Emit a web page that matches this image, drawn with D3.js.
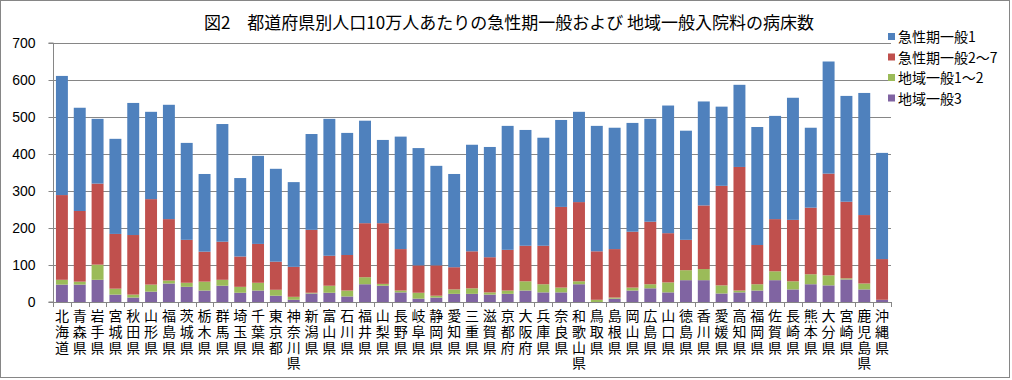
<!DOCTYPE html>
<html><head><meta charset="utf-8">
<script src="https://cdn.jsdelivr.net/npm/d3@7"></script>
<style>
html,body{margin:0;padding:0;background:#fff;}
text{font-family:"Noto Sans CJK JP","Noto Sans",sans-serif;}
.vlab{writing-mode:vertical-rl;text-orientation:upright;letter-spacing:1.7px;}
</style></head>
<body><svg id="c" width="1012" height="380"></svg>
<script>
const categories = ["北海道","青森県","岩手県","宮城県","秋田県","山形県","福島県","茨城県","栃木県","群馬県","埼玉県","千葉県","東京都","神奈川県","新潟県","富山県","石川県","福井県","山梨県","長野県","岐阜県","静岡県","愛知県","三重県","滋賀県","京都府","大阪府","兵庫県","奈良県","和歌山県","鳥取県","島根県","岡山県","広島県","山口県","徳島県","香川県","愛媛県","高知県","福岡県","佐賀県","長崎県","熊本県","大分県","宮崎県","鹿児島県","沖縄県"];
const chiiki3 = [47,47,60,20,12,28,50,41,31,44,25,31,17,6,23,25,15,48,44,26,9,12,22,22,20,22,31,26,26,48,0,9,31,37,26,59,59,23,26,31,59,34,48,45,61,34,6];
const chiiki1_2 = [13,8,41,16,8,19,8,11,24,16,16,21,16,8,2,19,16,19,5,5,16,5,12,15,6,9,25,22,13,8,6,3,8,11,27,27,30,22,5,17,24,22,27,27,3,16,0];
const kyusei2_7 = [229,191,219,148,161,231,166,116,81,103,82,105,76,81,170,81,96,146,164,112,74,82,60,100,95,110,96,104,218,214,131,131,151,169,133,82,172,269,334,106,141,166,180,275,207,185,110];
const kyusei1 = [322,279,175,257,357,236,309,262,210,318,212,238,251,229,259,370,330,277,225,304,317,269,252,288,298,335,313,292,235,244,339,328,294,278,345,295,281,214,222,319,279,330,216,303,286,330,287];
const yTicks = [0,100,200,300,400,500,600,700];
const seriesNames = ["地域一般3","地域一般1～2","急性期一般2～7","急性期一般1"];
const seriesColors = ["#8064A2","#9BBB59","#C0504D","#4F81BD"];
const title = "図2\u3000都道府県別人口10万人あたりの急性期一般および 地域一般入院料の病床数";

const svg = d3.select("#c");
const m = {left:53, right:891, top:43, bottom:302};
const grid = "#868686";

svg.append("rect").attr("x",0.5).attr("y",0.5).attr("width",1009).attr("height",377)
  .attr("fill","#fff").attr("stroke",grid);

const x = d3.scaleBand().domain(categories).range([m.left, m.right]).paddingInner(0.33).paddingOuter(0.165);
const y = d3.scaleLinear().domain([0,700]).range([m.bottom, m.top]);

// gridlines
svg.append("g").selectAll("line").data(yTicks.filter(d=>d>0)).join("line")
  .attr("x1",m.left).attr("x2",m.right)
  .attr("y1",d=>Math.round(y(d))+0.5).attr("y2",d=>Math.round(y(d))+0.5)
  .attr("stroke",grid).attr("stroke-width",1);

// stacked data
const rows = categories.map((c,i)=>({cat:c, s0:chiiki3[i], s1:chiiki1_2[i], s2:kyusei2_7[i], s3:kyusei1[i]}));
const stack = d3.stack().keys(["s0","s1","s2","s3"])(rows);
svg.append("g").selectAll("g").data(stack).join("g")
  .attr("fill",(d,i)=>seriesColors[i])
  .selectAll("rect").data(d=>d).join("rect")
  .attr("x",d=>x(d.data.cat)).attr("width",x.bandwidth())
  .attr("y",d=>y(d[1])).attr("height",d=>Math.max(0,y(d[0])-y(d[1])));

// y axis
const yAxis = d3.axisLeft(y).tickValues(yTicks).tickSize(5).tickPadding(13).tickFormat(d3.format("d"));
const ya = svg.append("g").attr("transform",`translate(${m.left+0.5},0)`).call(yAxis);
ya.select(".domain").attr("stroke",grid).attr("d",`M-5,${m.top}H0V${m.bottom}H-5`);
ya.selectAll(".tick line").attr("stroke",grid);
ya.selectAll(".tick text").attr("font-size",14).attr("fill","#000")
  .style("font-family","'Liberation Sans',sans-serif");

// x axis line and ticks
const step = x.step();
svg.append("line").attr("x1",m.left).attr("x2",m.right).attr("y1",m.bottom+0.5).attr("y2",m.bottom+0.5).attr("stroke",grid);
svg.append("g").selectAll("line").data(d3.range(categories.length+1)).join("line")
  .attr("x1",i=>Math.round(m.left+i*step)+0.5).attr("x2",i=>Math.round(m.left+i*step)+0.5)
  .attr("y1",m.bottom).attr("y2",m.bottom+5).attr("stroke",grid);

// x labels (vertical writing)
svg.append("g").selectAll("text").data(categories).join("text")
  .attr("class","vlab")
  .attr("x",d=>x(d)+x.bandwidth()/2).attr("y",309)
  .attr("font-size",14).attr("fill","#000").text(d=>d);

// title
svg.append("text").attr("x",509).attr("y",29).attr("text-anchor","middle")
  .attr("font-size",17).attr("fill","#000").text(title);

// legend
const legOrder = [3,2,1,0];
const lg = svg.append("g").selectAll("g").data(legOrder).join("g")
  .attr("transform",(d,i)=>`translate(888,${37+i*20.5})`);
lg.append("rect").attr("x",0).attr("y",-4).attr("width",7).attr("height",7).attr("fill",d=>seriesColors[d]);
lg.append("text").attr("x",10).attr("y",5).attr("font-size",14).attr("fill","#000").text(d=>seriesNames[d]);
</script></body></html>
